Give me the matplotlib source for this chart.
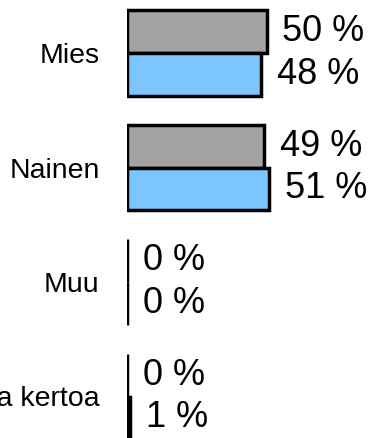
import matplotlib.pyplot as plt
import numpy as np

plt.rcParams['font.family'] = ['Liberation Sans', 'DejaVu Sans']

# Gender shares, two survey rounds
categories = ['Mies', 'Nainen', 'Muu', 'En halua kertoa']
gray_values = [50, 49, 0, 0]
blue_values = [48, 51, 0, 1]

W, H = 372, 438
fig = plt.figure(figsize=(W / 100, H / 100), dpi=100)

# axis starts where the bars begin; about 2.78 px per percent
x0_px = 127.5
px_per_pct = 2.78
ax = fig.add_axes([x0_px / W, 0, (W - x0_px) / W, 1])
ax.set_xlim(0, (W - x0_px) / px_per_pct)

# group centres 114.5 px apart, first at 53 px from the top
step = 114.5
ax.set_ylim((H - 53) / step, -53 / step)

y = np.arange(len(categories))
h = 0.375
ax.barh(y - h / 2, gray_values, height=h, color='#a3a3a3',
        edgecolor='black', linewidth=2.5)
ax.barh(y + h / 2, blue_values, height=h, color='#7cc5ff',
        edgecolor='black', linewidth=2.5)

for yy, v in zip(y - h / 2, gray_values):
    ax.annotate(f'{v} %', (v, yy), xytext=(11.5, 0), textcoords='offset points',
                va='center', ha='left', fontsize=26)
for yy, v in zip(y + h / 2, blue_values):
    ax.annotate(f'{v} %', (v, yy), xytext=(11.5, 0), textcoords='offset points',
                va='center', ha='left', fontsize=26)

ax.set_yticks(y)
ax.set_yticklabels(categories, fontsize=20.5)
ax.tick_params(axis='y', length=0, pad=20)
ax.set_xticks([])
for s in ax.spines.values():
    s.set_visible(False)

plt.savefig('out.png', dpi=100)
